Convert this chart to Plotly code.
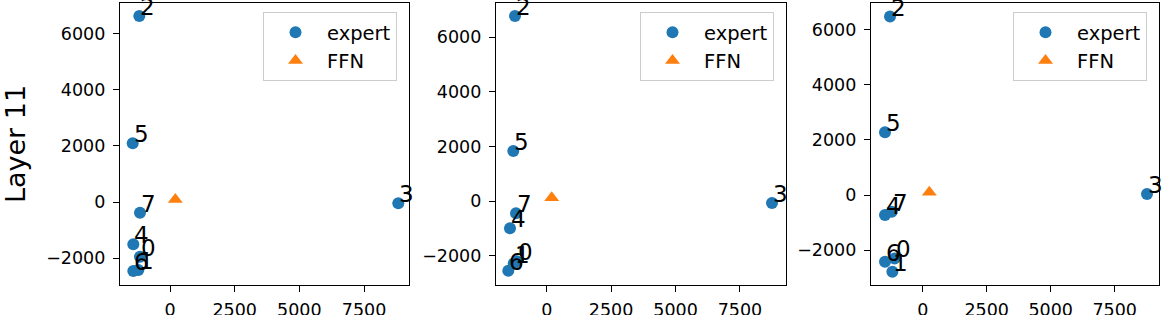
import plotly.graph_objects as go

W, H = 1163, 315

expert_ids = ["0", "1", "2", "3", "4", "5", "6", "7"]

p1_expert_x = [-1160, -1225, -1187, 8825, -1418, -1442, -1418, -1160]
p1_expert_y = [-1946, -2420, 6619, -46, -1505, 2089, -2455, -381]
p1_ffn_x = [205]
p1_ffn_y = [90]

p2_expert_x = [-1164, -1280, -1230, 8743, -1424, -1296, -1490, -1191]
p2_expert_y = [-2210, -2290, 6776, -73, -1000, 1831, -2553, -451]
p2_ffn_x = [194]
p2_ffn_y = [115]

p3_expert_x = [-1100, -1185, -1277, 8762, -1473, -1473, -1473, -1211]
p3_expert_y = [-2300, -2778, 6464, 36, -725, 2272, -2416, -604]
p3_ffn_x = [258]
p3_ffn_y = [100]

x_ticks = [0, 2500, 5000, 7500]
y_ticks = [-2000, 0, 2000, 4000, 6000]

panels = [
    (p1_expert_x, p1_expert_y, p1_ffn_x, p1_ffn_y),
    (p2_expert_x, p2_expert_y, p2_ffn_x, p2_ffn_y),
    (p3_expert_x, p3_expert_y, p3_ffn_x, p3_ffn_y),
]

# pixel boxes (left, right) and axis ranges
px_left = [120, 496, 871]
px_right = [409, 786, 1159]
px_top, px_bottom = 3, 285
x_ranges = [[-1933, 9239], [-1967, 9286], [-2020, 9230]]
y_ranges = [[-2954, 7082], [-3077, 7253], [-3261, 6957]]

BLUE = "#1f77b4"
ORANGE = "#ff7f0e"
FONT = "DejaVu Sans"
TICK_SIZE = 17.5
LEG_SIZE = 19.5
ANN_SIZE = 23

fig = go.Figure()
annotations = []
for i, (ex, ey, fx, fy) in enumerate(panels):
    n = "" if i == 0 else str(i + 1)
    xa, ya = "x" + n, "y" + n
    lg = "legend" + n
    fig.add_trace(go.Scatter(
        x=ex, y=ey, mode="markers", name="expert",
        marker=dict(color=BLUE, size=12, symbol="circle"),
        xaxis=xa, yaxis=ya, legend=lg, cliponaxis=False))
    fig.add_trace(go.Scatter(
        x=fx, y=fy, mode="markers", name="FFN",
        marker=dict(color=ORANGE, size=13, symbol="triangle-up"),
        xaxis=xa, yaxis=ya, legend=lg, cliponaxis=False))
    for lab, xv, yv in zip(expert_ids, ex, ey):
        annotations.append(dict(
            x=xv, y=yv, xref=xa, yref=ya, text=lab, showarrow=False,
            xanchor="left", yanchor="bottom", xshift=-1, yshift=-6,
            font=dict(family=FONT, size=ANN_SIZE, color="black")))

    axis_common = dict(
        showline=True, mirror=True, linecolor="black", linewidth=1.2,
        showgrid=False, zeroline=False, ticks="outside", ticklen=6,
        tickwidth=1.2, tickcolor="black", automargin=False,
        tickfont=dict(family=FONT, size=TICK_SIZE, color="black"),
    )
    xdom = [px_left[i] / W, px_right[i] / W]
    ydom = [1 - px_bottom / H, 1 - px_top / H]
    fig.update_layout(**{
        "xaxis" + n: dict(domain=xdom, range=x_ranges[i], tickvals=x_ticks,
                          anchor=ya, ticklabelstandoff=3, **axis_common),
        "yaxis" + n: dict(domain=ydom, range=y_ranges[i], tickvals=y_ticks,
                          ticktext=[("\u2212" + f"{abs(v)}") if v < 0 else str(v) for v in y_ticks],
                          anchor=xa, ticklabelstandoff=4, **axis_common),
        lg: dict(x=(px_right[i] - 146) / W, y=1 - 12 / H,
                 xanchor="left", yanchor="top",
                 bgcolor="rgba(255,255,255,0.8)", bordercolor="#cccccc",
                 borderwidth=1, itemwidth=53,
                 font=dict(family=FONT, size=LEG_SIZE, color="black")),
    })

fig.layout.yaxis.title = dict(text="Layer 11", standoff=22,
                              font=dict(family=FONT, size=27, color="black"))

fig.update_layout(
    width=W, height=H, margin=dict(l=0, r=0, t=0, b=0, autoexpand=False),
    plot_bgcolor="white", paper_bgcolor="white",
    annotations=annotations, showlegend=True,
)

fig.write_html("out.html", config={"displayModeBar": False},
               post_script="document.body.style.margin='0px';document.body.style.overflow='hidden';")
